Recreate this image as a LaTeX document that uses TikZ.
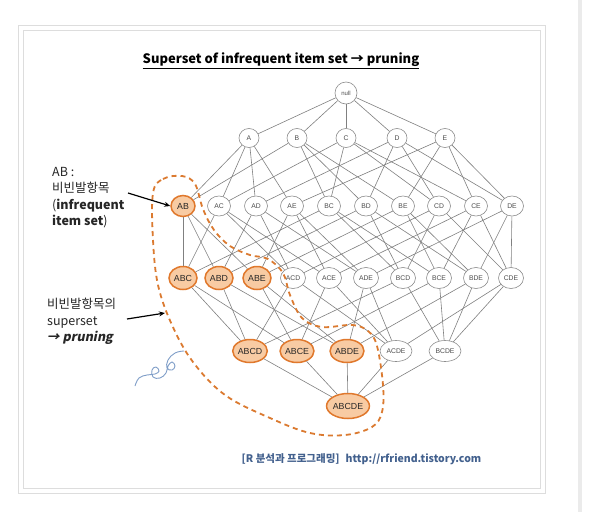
\documentclass[tikz,border=0pt]{standalone}
\usepackage{fontspec}
\setmainfont{Noto Sans CJK KR}
\newfontfamily\prun{Noto Sans CJK KR}[FakeSlant=0.2]
\newfontfamily\nodefont{Liberation Sans}
\usetikzlibrary{shapes.geometric,arrows.meta}
\definecolor{edgegray}{HTML}{808080}
\definecolor{nodegray}{HTML}{8C8C8C}
\definecolor{hlfill}{HTML}{F8CBA3}
\definecolor{hldraw}{HTML}{E0782C}
\definecolor{dashorange}{HTML}{DB7A30}
\definecolor{framegray}{HTML}{DDDDDD}
\definecolor{bargray}{HTML}{EBEBEB}
\definecolor{footblue}{HTML}{43618E}
\definecolor{scribble}{HTML}{7F9EC8}
\tikzset{
  nd/.style={ellipse,draw=nodegray,fill=white,line width=0.6pt,inner sep=0pt,
    font=\nodefont\fontsize{6.8}{7}\selectfont,text=black!70},
  hl/.style={fill=hlfill,draw=hldraw,line width=1.5pt,font=\nodefont\fontsize{8.8}{9}\selectfont,text=black!85},
  lvA/.style={minimum width=20pt,minimum height=19pt},
  lvB/.style={minimum width=23pt,minimum height=20pt},
  lvC/.style={minimum width=25pt,minimum height=21pt},
  lvD/.style={minimum width=32pt,minimum height=21pt},
  edge/.style={draw=edgegray,line width=0.6pt},
  lbl/.style={anchor=north west,align=left,inner sep=0pt,font=\fontsize{12.5}{16.5}\selectfont,text=black!85},
  pointer/.style={draw=black,line width=1.2pt,-{Stealth[length=6pt,width=5pt]}}
}
\begin{document}
\begin{tikzpicture}[x=1pt,y=-1pt]
\useasboundingbox (0,0) rectangle (608,512);
\fill[white] (0,0) rectangle (608,512);
\fill[bargray] (578,0) rectangle (582,512);
\draw[framegray,line width=0.8pt] (18,25) rectangle (545.5,493);
\draw[framegray,line width=0.8pt] (23,30.5) rectangle (540.5,488);

\node[font=\bfseries\fontsize{13}{15}\selectfont] (title) at (281,61) {\underline{Superset of infrequent item set → pruning}};

% lattice nodes
\node[nd,minimum width=22pt,minimum height=22pt,font=\nodefont\fontsize{6}{7}\selectfont] (null) at (346,93) {null};
\foreach \n/\x in {A/249,B/297,C/346,D/397,E/445}
  \node[nd,lvA] (\n) at (\x,138) {\n};
\node[nd,hl,minimum width=24pt,minimum height=21pt] (AB) at (183,206) {AB};
\foreach \n/\x in {AC/219,AD/256,AE/292,BC/329,BD/366,BE/403,CD/439,CE/476,DE/512}
  \node[nd,lvB] (\n) at (\x,206) {\n};
\foreach \n/\x in {ABC/183,ABD/219,ABE/257}
  \node[nd,hl,minimum width=28pt,minimum height=23pt] (\n) at (\x,278) {\n};
\foreach \n/\x in {ACD/293,ACE/329,ADE/366,BCD/403,BCE/439,BDE/476,CDE/511}
  \node[nd,lvC] (\n) at (\x,278) {\n};
\foreach \n/\x in {ABCD/250,ABCE/297,ABDE/347}
  \node[nd,hl,minimum width=31pt,minimum height=23pt] (\n) at (\x,351) {\n};
\foreach \n/\x in {ACDE/396,BCDE/445}
  \node[nd,lvD] (\n) at (\x,351) {\n};
\node[nd,hl,minimum width=38pt,minimum height=25pt] (ABCDE) at (348,406) {ABCDE};

% edges
\foreach \n in {A,B,C,D,E} \path[edge] (null) -- (\n);
\foreach \s/\a/\b in {AB/A/B,AC/A/C,AD/A/D,AE/A/E,BC/B/C,BD/B/D,BE/B/E,CD/C/D,CE/C/E,DE/D/E}
  {\path[edge] (\s) -- (\a); \path[edge] (\s) -- (\b);}
\foreach \s/\a/\b/\c in {ABC/AB/AC/BC,ABD/AB/AD/BD,ABE/AB/AE/BE,ACD/AC/AD/CD,ACE/AC/AE/CE,ADE/AD/AE/DE,BCD/BC/BD/CD,BCE/BC/BE/CE,BDE/BD/BE/DE,CDE/CD/CE/DE}
  {\path[edge] (\s) -- (\a); \path[edge] (\s) -- (\b); \path[edge] (\s) -- (\c);}
\foreach \s/\a/\b/\c/\d in {ABCD/ABC/ABD/ACD/BCD,ABCE/ABC/ABE/ACE/BCE,ABDE/ABD/ABE/ADE/BDE,ACDE/ACD/ACE/ADE/CDE,BCDE/BCD/BCE/BDE/CDE}
  {\path[edge] (\s) -- (\a); \path[edge] (\s) -- (\b); \path[edge] (\s) -- (\c); \path[edge] (\s) -- (\d);}
\foreach \n in {ABCD,ABCE,ABDE,ACDE,BCDE} \path[edge] (ABCDE) -- (\n);

% dashed boundary
\draw[dashorange,line width=1.8pt,dash pattern=on 5pt off 4pt]
  plot[smooth cycle,tension=0.6] coordinates {(153,193) (163,179) (182,176) (195,184) (203,209) (214,230) (230,246) (250,255) (268,259) (283,273) (290,295) (302,318) (322,327) (352,325) (368,331) (377,346) (383,385) (382,412) (372,427) (345,435) (310,433) (270,418) (225,395) (193,362) (172,325) (158,285) (153,240)};

% labels
\node[lbl] (lab1) at (52,167) {AB :\\비빈발항목\\(\textbf{infrequent}\\\textbf{item set})};
\node[lbl] (lab2) at (47,298) {비빈발항목의\\superset\\{\prun\bfseries → pruning}};
\coordinate (t1) at (128,193);
\coordinate (t2) at (127,319);
\coordinate (h2) at (165,313);
\draw[pointer] (t1) -- (AB.west);
\draw[pointer] (t2) -- (h2);

% scribble
\draw[scribble,line width=0.9pt] plot[smooth,tension=0.7] coordinates {(135,386) (139,378) (147,375) (155,374) (159,371) (156,367) (152,370) (153,377) (160,378) (166,373) (168,366) (172,362) (175,366) (172,370) (167,368) (168,360) (175,353) (184,351)};

% footer
\node[font=\bfseries\fontsize{10.5}{12}\selectfont,text=footblue] (foot) at (361.5,459) {[R 분석과 프로그래밍]\hspace{6pt}http://rfriend.tistory.com};
\end{tikzpicture}
\end{document}
